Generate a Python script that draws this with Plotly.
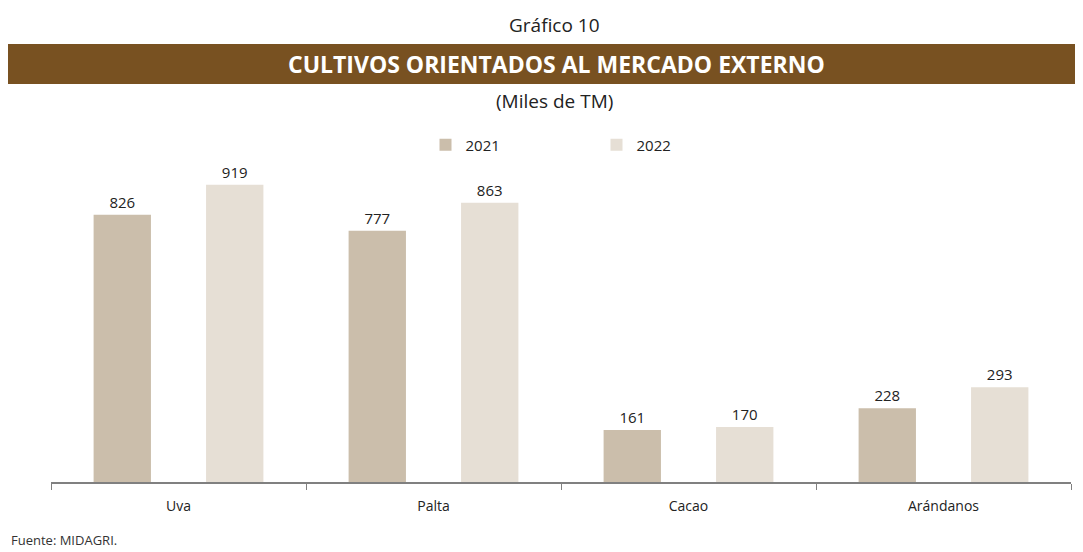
import plotly.graph_objects as go

categories = ["Uva", "Palta", "Cacao", "Arándanos"]
values_2021 = [826, 777, 161, 228]
values_2022 = [919, 863, 170, 293]
series_names = ["2021", "2022"]
colors = ["#CBBEAB", "#E6DFD5"]

# page has an 8px body margin; figure coordinates = page coordinates - 8
OFF = 8
W, H = 1083 - OFF, 552 - OFF
ML, MT = 51 - OFF, 150 - OFF
PLOT_R, PLOT_B = 1071 - OFF, 482 - OFF
MR, MB = W - PLOT_R, H - PLOT_B
PW = PLOT_R - ML
PH = PLOT_B - MT


def px(x):
    return (x - OFF - ML) / PW


def py(y):
    return (PLOT_B - (y - OFF)) / PH


FONT = "Open Sans"
fig = go.Figure()
for name, vals, col in zip(series_names, [values_2021, values_2022], colors):
    fig.add_trace(go.Bar(
        x=categories, y=vals, name=name, marker_color=col,
        marker_line_width=0,
        text=vals, texttemplate="%{text}", textposition="outside",
        textfont=dict(family=FONT, size=15, color="#222222"),
        cliponaxis=False,
    ))

fig.update_layout(
    width=W, height=H,
    margin=dict(l=ML, r=MR, t=MT, b=MB),
    paper_bgcolor="white", plot_bgcolor="white",
    barmode="group", bargap=0.118, bargroupgap=0.49,
    font=dict(family=FONT, size=14, color="#222222"),
    showlegend=True,
    legend=dict(orientation="h", x=px(425.5), y=py(145), xanchor="left", yanchor="middle",
                entrywidth=126, entrywidthmode="pixels",
                font=dict(family=FONT, size=15, color="#222222"),
                bgcolor="rgba(0,0,0,0)"),
    xaxis=dict(showline=True, linecolor="#808080", linewidth=1.5,
               ticks="outside", tickson="boundaries", ticklen=6, tickcolor="#808080",
               ticklabelstandoff=10,
               tickfont=dict(family=FONT, size=14, color="#222222"),
               showgrid=False, zeroline=False),
    yaxis=dict(range=[0, PH / 0.3235], visible=False, showgrid=False, zeroline=False),
    shapes=[dict(type="rect", xref="paper", yref="paper",
                 x0=px(5), x1=px(1090), y0=py(84), y1=py(44),
                 fillcolor="#785121", line_width=0, layer="below")],
    annotations=[
        dict(text="Gráfico 10", xref="paper", yref="paper", x=px(554), y=py(25),
             showarrow=False, xanchor="center", yanchor="middle",
             font=dict(family=FONT, size=19, color="#222222")),
        dict(text="<b>CULTIVOS ORIENTADOS AL MERCADO EXTERNO</b>", xref="paper", yref="paper",
             x=px(556), y=py(64), showarrow=False, xanchor="center", yanchor="middle",
             font=dict(family=FONT, size=23, color="white")),
        dict(text="(Miles de TM)", xref="paper", yref="paper", x=px(554), y=py(101),
             showarrow=False, xanchor="center", yanchor="middle",
             font=dict(family=FONT, size=19, color="#222222")),
        dict(text="Fuente: MIDAGRI.", xref="paper", yref="paper", x=px(9), y=py(551),
             showarrow=False, xanchor="left", yanchor="bottom",
             font=dict(family=FONT, size=13, color="#333333")),
    ],
)

fig.write_html("out.html")
